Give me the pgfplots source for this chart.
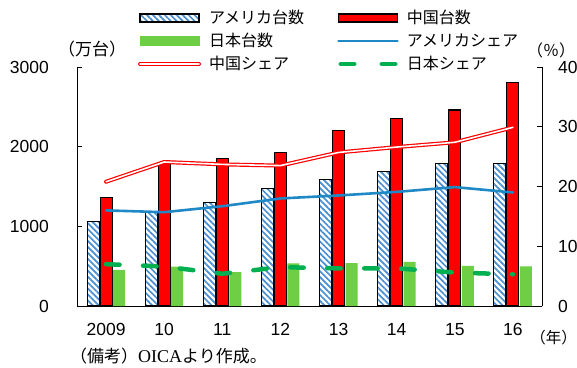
\documentclass[border=0pt]{standalone}
\usepackage{fontspec}
\setmainfont{Liberation Sans}
\newfontfamily\jp{Noto Sans CJK JP}
\newfontfamily\serif{Liberation Serif}
\usepackage{pgfplots}
\usepackage{pgfplotstable}
\pgfplotsset{compat=1.18}
\usetikzlibrary{patterns.meta}

\definecolor{usstripe}{RGB}{72,142,208}
\definecolor{usline}{RGB}{31,137,198}
\definecolor{cnred}{RGB}{255,0,0}
\definecolor{jpbar}{RGB}{110,206,68}
\definecolor{jpline}{RGB}{0,176,80}

% 新車販売台数（万台）
\pgfplotstableread{
idx us   cn   jp
0   1060 1364 455
1   1177 1806 495
2   1304 1851 425
3   1479 1931 535
4   1588 2198 538
5   1684 2349 555
6   1785 2460 505
7   1787 2803 497
}\units

% 世界販売に占めるシェア（％）
\pgfplotstableread{
idx us   cn   jp
0   16.0 20.8 7.0
1   15.7 24.1 6.6
2   16.7 23.7 5.4
3   18.0 23.5 6.5
4   18.5 25.7 6.3
5   19.1 26.6 6.3
6   19.9 27.4 5.6
7   19.0 29.9 5.3
}\shares

\pgfplotsset{
  base/.style={
    at={(77pt,61pt)}, anchor=south west,
    scale only axis, width=465pt, height=239pt,
    xmin=-0.5, xmax=7.5,
    tick align=inside, major tick length=5pt,
    every tick/.style={black, line width=0.9pt},
    axis line style={black, line width=0.9pt},
    ticklabel style={font=\fontsize{17.5}{20}\selectfont, inner sep=0pt},
    /pgf/number format/assume math mode=true,
    /pgf/number format/1000 sep={},
    scaled y ticks=false,
  },
}

\begin{document}
\begin{tikzpicture}[x=1pt,y=1pt]
\useasboundingbox (0,0) rectangle (577,367);

% 台数（左軸）
\begin{axis}[base,
  axis y line*=left, axis x line*=bottom,
  ymin=0, ymax=3000, ytick={0,1000,2000,3000},
  yticklabel style={anchor=east, xshift=-28pt},
  xtick={0,...,7},
  xticklabels={2009,10,11,12,13,14,15,16},
  xticklabel style={anchor=north, yshift=-17pt},
  x tick style={draw=none},
]
\addplot[ybar, bar width=12pt, bar shift=-13pt, draw=black, line width=1.1pt,
  pattern={Lines[angle=-45,distance=4.2pt,line width=1.7pt]}, pattern color=usstripe]
  table[x=idx, y=us] {\units};
\addplot[ybar, bar width=12pt, bar shift=0pt, draw=black, line width=1.1pt, fill=cnred]
  table[x=idx, y=cn] {\units};
\addplot[ybar, bar width=12pt, bar shift=13pt, draw=none, fill=jpbar]
  table[x=idx, y=jp] {\units};
\end{axis}

% シェア（右軸）
\begin{axis}[base,
  axis y line*=right, axis x line=none,
  ymin=0, ymax=40, ytick={0,10,20,30,40},
  yticklabel style={anchor=west, xshift=16pt},
  legend columns=2,
  legend cell align=left,
  legend image code/.code={\draw[#1] (0pt,0pt) -- (59pt,0pt);},
  legend style={
    draw=none, fill=none, inner sep=0pt, outer sep=0pt,
    at={(axis description cs:0.1312,1.2385)}, anchor=north west,
    font=\jp\fontsize{16}{19}\selectfont,
    nodes={inner sep=0pt, text height=13pt, text depth=3pt},
    row sep=7pt,
    /tikz/every odd column/.style={column sep=8pt},
    /tikz/every even column/.style={column sep=33pt},
  },
]
\addlegendimage{legend image code/.code={
  \draw[black, line width=1.1pt, pattern={Lines[angle=-45,distance=4.2pt,line width=1.7pt]}, pattern color=usstripe]
    (0pt,-4pt) rectangle (59pt,4pt);}}
\addlegendentry{アメリカ台数}
\addlegendimage{legend image code/.code={
  \draw[black, line width=1.1pt, fill=cnred] (0pt,-4pt) rectangle (59pt,4pt);}}
\addlegendentry{中国台数}
\addlegendimage{legend image code/.code={
  \fill[jpbar] (0pt,-4.5pt) rectangle (59pt,4.5pt);}}
\addlegendentry{日本台数}

\addplot[usline, line width=2.6pt, line cap=round, line join=round]
  table[x=idx, y=us] {\shares};
\addlegendentry{アメリカシェア}
\addplot[cnred, double=white, double distance=1.6pt, line width=1.2pt, line cap=round, line join=round]
  table[x=idx, y=cn] {\shares};
\addlegendentry{中国シェア}
\addplot[jpline, line width=4.5pt, line cap=round, dash pattern=on 13.5pt off 23.5pt,
  legend image code/.code={\draw[jpline, line width=4.5pt, line cap=round, dash pattern=on 13.5pt off 27.5pt] (2.25pt,0pt) -- (56.75pt,0pt);}]
  table[x=idx, y=jp] {\shares};
\addlegendentry{日本シェア}
\end{axis}

% 単位と注記
\node[font=\jp\fontsize{17}{20}\selectfont, inner sep=0pt] at (92,318) {（万台）};
\node[font=\jp\fontsize{16}{19}\selectfont, inner sep=0pt] at (551,317) {（％）};
\node[font=\jp\fontsize{15.5}{19}\selectfont, inner sep=0pt, anchor=east] at (577,29) {（年）};
\node[font=\fontsize{17}{20}\selectfont, inner sep=0pt, anchor=west] at (70,11)
  {\jp（備考）\serif\fontsize{18}{20}\selectfont OICA\jp\fontsize{17}{20}\selectfont より作成。};
\end{tikzpicture}
\end{document}
